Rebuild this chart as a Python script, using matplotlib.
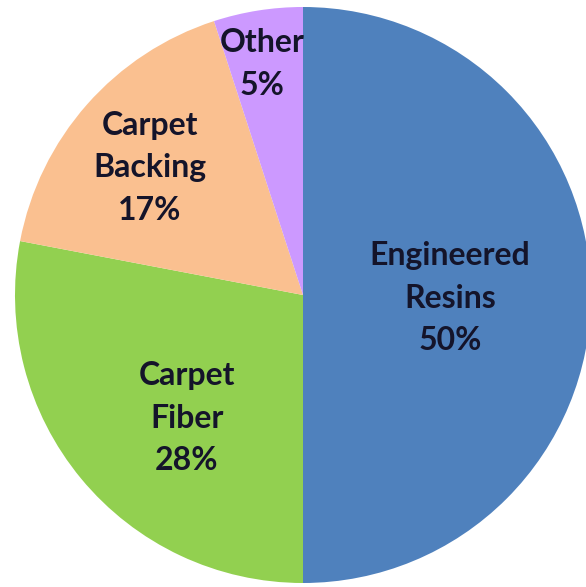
import matplotlib.pyplot as plt

labels = ['Engineered\nResins', 'Carpet\nFiber', 'Carpet\nBacking', 'Other']
shares = [50, 28, 17, 5]
colors = ['#4F81BD', '#92D050', '#FAC090', '#CC99FF']

# label anchor points in pixel space (x from left, y from top)
label_xy = [(450, 298), (187, 418), (150, 168), (262, 64)]

W, H = 586, 587
fig = plt.figure(figsize=(W / 100, H / 100), dpi=100)
ax = fig.add_axes([0, 0, 1, 1])

ax.pie(shares, colors=colors, startangle=90, counterclock=False,
       center=(303, H - 295), radius=288, frame=True,
       wedgeprops=dict(linewidth=0))
ax.set_xlim(0, W)
ax.set_ylim(0, H)
ax.set_aspect('equal')
ax.axis('off')

for lab, val, (x, y) in zip(labels, shares, label_xy):
    ax.text(x, H - y, f'{lab}\n{val}%', ha='center', va='center',
            fontsize=23, fontweight='bold', family='Lato',
            color='#14142a', linespacing=1.55)

fig.savefig('out.png', dpi=100)
